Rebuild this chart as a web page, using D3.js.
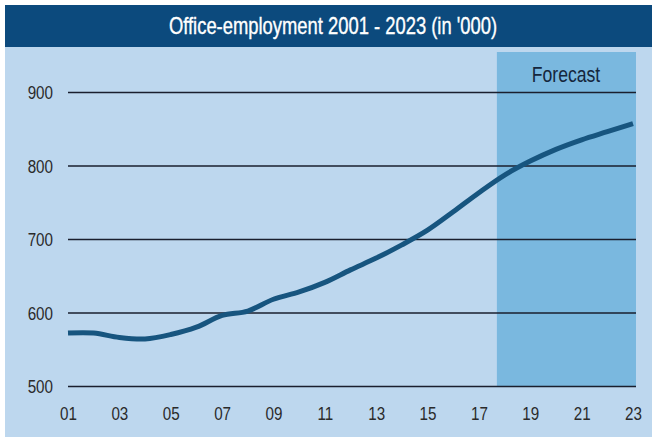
<!DOCTYPE html>
<html>
<head>
<meta charset="utf-8">
<script src="https://cdn.jsdelivr.net/npm/d3@7/dist/d3.min.js"></script>
<style>
  html, body { margin: 0; padding: 0; background: #ffffff; }
  svg { display: block; }
  text { font-family: "Liberation Sans", Arial, sans-serif; }
</style>
</head>
<body>
<script>
// Office employment, thousands, 2001-2023 (2018 onward forecast)
const years = [2001, 2002, 2003, 2004, 2005, 2006, 2007, 2008, 2009, 2010, 2011, 2012,
               2013, 2014, 2015, 2016, 2017, 2018, 2019, 2020, 2021, 2022, 2023];
const employment = [572, 572, 566, 564, 570, 580, 596, 602, 618, 628, 641, 658,
                    674, 692, 712, 737, 763, 787, 806, 822, 835, 846, 857];
const yTicks = [500, 600, 700, 800, 900];
const xTicks = [2001, 2003, 2005, 2007, 2009, 2011, 2013, 2015, 2017, 2019, 2021, 2023];
const forecastFrom = 2017.7;
const title = "Office-employment 2001 - 2023 (in '000)";

const W = 657, H = 438;
const NARROW = 0.8; // horizontal squeeze for a condensed look
const svg = d3.select("body").append("svg").attr("width", W).attr("height", H);

// condensed text helper
function narrowText(parent, cx, cy, str, size, anchor, fill) {
  return parent.append("text")
    .attr("transform", `translate(${cx},${cy}) scale(${NARROW},1)`)
    .attr("text-anchor", anchor).attr("fill", fill)
    .attr("font-size", size)
    .text(str);
}

// panel background and title band
svg.append("rect").attr("x", 5).attr("y", 5).attr("width", 647).attr("height", 432).attr("fill", "#bdd7ee");
svg.append("rect").attr("x", 5).attr("y", 5).attr("width", 647).attr("height", 42).attr("fill", "#0c4a7d");
narrowText(svg, 333, 34, title, 23, "middle", "#ffffff")
  .attr("stroke", "#ffffff").attr("stroke-width", 0.35);

const x = d3.scaleLinear().domain([2001, 2023]).range([68, 633]);
const y = d3.scaleLinear().domain([500, 900]).range([386, 92]);

// forecast band
svg.append("rect")
  .attr("x", x(forecastFrom)).attr("y", 52)
  .attr("width", 636 - x(forecastFrom)).attr("height", y(500) - 52)
  .attr("fill", "#7ab8df");
narrowText(svg, 566, 82, "Forecast", 22, "middle", "#14263d");

// horizontal grid lines with value labels
const yAxis = d3.axisLeft(y).tickValues(yTicks).tickSize(-(636 - 68)).tickPadding(0);
const gy = svg.append("g").attr("transform", "translate(68,0)").call(yAxis);
gy.select(".domain").remove();
gy.selectAll(".tick line").attr("stroke", "#1a1f2e").attr("stroke-width", 1.6);
gy.selectAll(".tick text")
  .attr("x", -15 / NARROW).attr("dy", "0.35em")
  .attr("transform", `scale(${NARROW},1)`)
  .attr("fill", "#2a2a2a").attr("font-size", 19)
  .attr("font-family", "'Liberation Sans', Arial, sans-serif");

// year labels
const xAxis = d3.axisBottom(x).tickValues(xTicks).tickSize(0).tickPadding(0)
  .tickFormat(d => String(d % 100).padStart(2, "0"));
const gx = svg.append("g").attr("transform", "translate(0,420)").call(xAxis);
gx.select(".domain").remove();
gx.selectAll(".tick text")
  .attr("y", 0).attr("dy", 0)
  .attr("transform", `scale(${NARROW},1)`)
  .attr("fill", "#2a2a2a").attr("font-size", 19)
  .attr("font-family", "'Liberation Sans', Arial, sans-serif");

// employment line
const line = d3.line().x((d, i) => x(years[i])).y(d => y(d)).curve(d3.curveCatmullRom.alpha(0.5));
svg.append("path").datum(employment)
  .attr("d", line)
  .attr("fill", "none")
  .attr("stroke", "#17557f")
  .attr("stroke-width", 5)
  .attr("stroke-linecap", "butt")
  .attr("stroke-linejoin", "round");
</script>
</body>
</html>
